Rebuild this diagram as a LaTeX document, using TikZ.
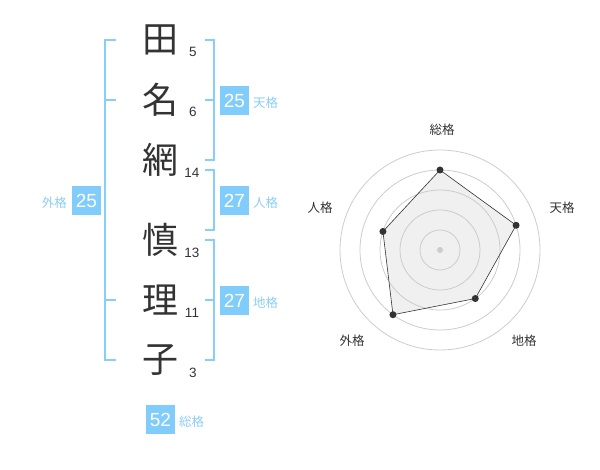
\documentclass[tikz,border=0pt]{standalone}
\usepackage{fontspec}
\setmainfont{Liberation Sans}
\newfontfamily\jp{Noto Sans CJK JP}
\definecolor{boxblue}{RGB}{128,204,250}
\definecolor{linkblue}{RGB}{135,206,250}
\definecolor{lblblue}{RGB}{140,205,245}
\definecolor{ink}{RGB}{51,51,51}
\definecolor{ring}{RGB}{204,204,204}
\definecolor{area}{RGB}{240,240,240}
\tikzset{
  kanji/.style={font=\jp\fontsize{36}{36}\selectfont, text=ink, inner sep=0pt},
  strokes/.style={font=\fontsize{13.5}{14}\selectfont, text=ink, inner sep=0pt},
  scorebox/.style={fill=boxblue, text=white, minimum width=29pt, minimum height=29pt, inner sep=0pt, font=\fontsize{19}{19}\selectfont},
  scorelbl/.style={font=\jp\fontsize{12.5}{13}\selectfont, text=lblblue, inner sep=0pt},
  bracket/.style={draw=linkblue, line width=2pt},
  axislbl/.style={font=\jp\fontsize{12.5}{13}\selectfont, text=ink, inner sep=0pt},
  ringline/.style={draw=ring, line width=0.8pt},
  dot/.style={circle, fill=ink, inner sep=0pt, minimum size=7pt},
}
\begin{document}
\begin{tikzpicture}[x=1pt,y=-1pt]
\useasboundingbox (0,0) rectangle (600,470);
% kanji
\node[kanji] (k1) at (160,40) {田};
\node[kanji] (k2) at (160,100) {名};
\node[kanji] (k3) at (160,160) {網};
\node[kanji] (k4) at (160,240) {慎};
\node[kanji] (k5) at (160,300) {理};
\node[kanji] (k6) at (160,360) {子};
% strokes
\node[strokes] (s1) at (193,52) {5};
\node[strokes] (s2) at (193,112) {6};
\node[strokes] (s3) at (192,173) {14};
\node[strokes] (s4) at (192,253) {13};
\node[strokes] (s5) at (192,313) {11};
\node[strokes] (s6) at (193,373) {3};
% brackets
\draw[bracket] (116,40) -- (105,40) -- (105,360) -- (116,360);
\draw[bracket] (105,100) -- (116,100);
\draw[bracket] (105,300) -- (116,300);
\draw[bracket] (205,40) -- (214,40) -- (214,160) -- (205,160);
\draw[bracket] (205,100) -- (214,100);
\draw[bracket] (205,170) -- (214,170) -- (214,230) -- (205,230);
\draw[bracket] (205,240) -- (214,240) -- (214,360) -- (205,360);
\draw[bracket] (205,300) -- (214,300);
% score boxes
\node[scorebox] (ten) at (234.5,100.5) {25};
\node[scorelbl, anchor=west] (tenl) at (253,103) {天格};
\node[scorebox] (jin) at (234.5,200.5) {27};
\node[scorelbl, anchor=west] (jinl) at (253,203) {人格};
\node[scorebox] (chi) at (234.5,300.5) {27};
\node[scorelbl, anchor=west] (chil) at (253,303) {地格};
\node[scorebox] (gai) at (86.5,200.5) {25};
\node[scorelbl, anchor=east] (gail) at (67,203) {外格};
\node[scorebox] (sou) at (160.5,419.5) {52};
\node[scorelbl, anchor=west] (soul) at (179,422) {総格};
% radar
\begin{scope}[shift={(440,250)}, yscale=-1]
  \coordinate (pS) at (90:80);
  \coordinate (pT) at (18:80);
  \coordinate (pC) at (-54:60);
  \coordinate (pG) at (234:80);
  \coordinate (pJ) at (162:60);
  \fill[area] (pS) -- (pT) -- (pC) -- (pG) -- (pJ) -- cycle;
  \foreach \r in {20,40,60,80,100} \draw[ringline] (0,0) circle (\r);
  \draw[ink, line width=0.6pt] (pS) -- (pT) -- (pC) -- (pG) -- (pJ) -- cycle;
  \node[circle, fill=ring, inner sep=0pt, minimum size=6pt] (ctr) at (0,0) {};
  \foreach \p in {pS,pT,pC,pG,pJ} \node[dot] at (\p) {};
\end{scope}
\node[axislbl] (aS) at (442,130) {総格};
\node[axislbl] (aT) at (562,208) {天格};
\node[axislbl] (aC) at (524,341) {地格};
\node[axislbl] (aG) at (352,341) {外格};
\node[axislbl] (aJ) at (320,208) {人格};
\end{tikzpicture}
\end{document}
